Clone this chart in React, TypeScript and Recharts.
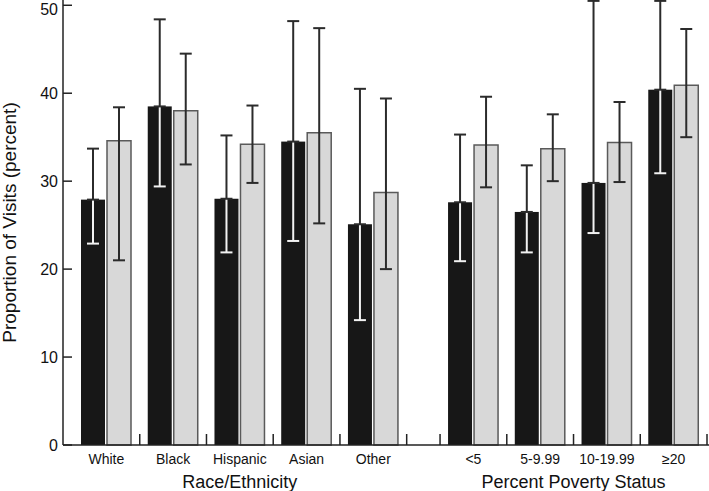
import { BarChart, Bar, XAxis, YAxis, ErrorBar, Label } from "recharts";

const categories = ["White", "Black", "Hispanic", "Asian", "Other", "<5", "5-9.99", "10-19.99", "≥20"];
const groupLabels = ["Race/Ethnicity", "Percent Poverty Status"];
const groupSizes = [5, 4];

// dark bars
const valuesA = [27.9, 38.5, 28.0, 34.5, 25.1, 27.6, 26.5, 29.8, 40.4];
const lowA = [22.9, 29.4, 21.9, 23.2, 14.2, 20.9, 21.9, 24.1, 30.9];
const highA = [33.7, 48.4, 35.2, 48.2, 40.5, 35.3, 31.8, 50.5, 50.5];

// light bars
const valuesB = [34.6, 38.0, 34.2, 35.5, 28.7, 34.1, 33.7, 34.4, 40.9];
const lowB = [21.0, 31.9, 29.8, 25.2, 20.0, 29.3, 30.0, 29.9, 35.0];
const highB = [38.4, 44.5, 38.6, 47.4, 39.4, 39.6, 37.6, 39.0, 47.3];

const yTicks = [0, 10, 20, 30, 40, 50];

const FONT = "'Liberation Sans', Arial, Helvetica, sans-serif";
const INK = "#111";
const DARK = "#2b2b2b";
const LIGHT = "#f2f2f2";
const BAR_DARK = "#171717";

// one unit per category, half a unit between the two groups
const centers: number[] = [];
const groupCenters: number[] = [];
{
  let pos = 0;
  groupSizes.forEach((size, g) => {
    if (g > 0) pos += 0.5;
    const first = pos + 0.5;
    for (let i = 0; i < size; i++) {
      centers.push(pos + 0.5);
      pos += 1;
    }
    groupCenters.push((first + pos - 0.5) / 2);
  });
}
const xMax = centers[centers.length - 1] + 0.5;
const boundaries = Array.from(
  new Set(centers.flatMap((c) => [c - 0.5, c + 0.5]).filter((v) => v > 0))
);
const xTicks = [...centers, ...boundaries].sort((p, q) => p - q);

const data = categories.map((name, i) => ({
  name,
  x: centers[i],
  a: valuesA[i],
  aLow: lowA[i],
  aUp: [0, highA[i] - valuesA[i]],
  b: valuesB[i],
  bErr: [valuesB[i] - lowB[i], highB[i] - valuesB[i]],
}));

// dark bar with the lower part of its whisker drawn light inside the bar
// (bar runs from 0 to value on a linear axis, so the low end sits proportionally)
function DarkBar(props: any) {
  const { x, y, width, height, payload } = props;
  if (height == null || height <= 0) return null;
  const cx = x + width / 2;
  const yLow = y + height * (1 - payload.aLow / payload.a);
  return (
    <g>
      <rect x={x} y={y} width={width} height={height} fill={BAR_DARK} />
      <line x1={cx} x2={cx} y1={y} y2={yLow} stroke={LIGHT} strokeWidth={2} />
      <line x1={cx - 6} x2={cx + 6} y1={yLow} y2={yLow} stroke={LIGHT} strokeWidth={2} />
    </g>
  );
}

// category names under the bars, short inward ticks between them
function CategoryTick(props: any) {
  const { x, y, payload } = props;
  const idx = centers.indexOf(payload.value);
  if (idx >= 0) {
    return (
      <text x={x} y={y + 18.5} textAnchor="middle" fontSize={14} fill={INK}>
        {categories[idx]}
      </text>
    );
  }
  return <line x1={x} x2={x} y1={y} y2={y - 11} stroke="#222" strokeWidth={1.5} />;
}

function GroupTick(props: any) {
  const { x, y, payload } = props;
  const idx = groupCenters.indexOf(payload.value);
  return (
    <text x={x} y={y + 23} textAnchor="middle" fontSize={18} fill={INK}>
      {groupLabels[idx] ?? ""}
    </text>
  );
}

export default function App() {
  return (
    <div style={{ fontFamily: FONT, width: 709, height: 491 }}>
      <style>{"body{margin:0}"}</style>
      <BarChart
        width={709}
        height={491}
        data={data}
        margin={{ top: 0, right: 0, bottom: 0, left: 0 }}
        barGap={2}
      >
        <XAxis
          xAxisId="a"
          dataKey="x"
          type="number"
          domain={[0, xMax]}
          padding={{ left: 10, right: 2 }}
          ticks={xTicks}
          interval={0}
          tick={<CategoryTick />}
          tickLine={false}
          tickSize={0}
          tickMargin={0}
          axisLine={{ stroke: "#222", strokeWidth: 1.5 }}
          height={20}
        />
        <XAxis
          xAxisId="b"
          dataKey="x"
          type="number"
          domain={[0, xMax]}
          allowDataOverflow
          padding={{ left: 10, right: 2 }}
          ticks={groupCenters}
          interval={0}
          tick={<GroupTick />}
          tickLine={false}
          axisLine={false}
          tickSize={0}
          tickMargin={0}
          height={26}
        />
        <YAxis
          type="number"
          domain={[0, 50.6]}
          ticks={yTicks}
          width={63}
          tickSize={-9}
          tickMargin={14}
          tick={{ fontSize: 16, fill: INK }}
          tickLine={{ stroke: "#222", strokeWidth: 1.5 }}
          axisLine={{ stroke: "#222", strokeWidth: 1.5 }}
        >
          <Label
            value="Proportion of Visits (percent)"
            angle={-90}
            position="insideLeft"
            offset={9.5}
            style={{ textAnchor: "middle", fontSize: 19, fill: INK }}
          />
        </YAxis>
        <Bar
          xAxisId="a"
          dataKey="a"
          fill={BAR_DARK}
          barSize={24}
          shape={<DarkBar />}
          isAnimationActive={false}
        >
          <ErrorBar dataKey="aUp" direction="y" width={6} stroke={DARK} strokeWidth={2} isAnimationActive={false} />
        </Bar>
        <Bar
          xAxisId="a"
          dataKey="b"
          fill="#d8d8d8"
          stroke="#5a5a5a"
          strokeWidth={1.5}
          barSize={24}
          isAnimationActive={false}
        >
          <ErrorBar dataKey="bErr" direction="y" width={6} stroke={DARK} strokeWidth={2} isAnimationActive={false} />
        </Bar>
      </BarChart>
    </div>
  );
}
